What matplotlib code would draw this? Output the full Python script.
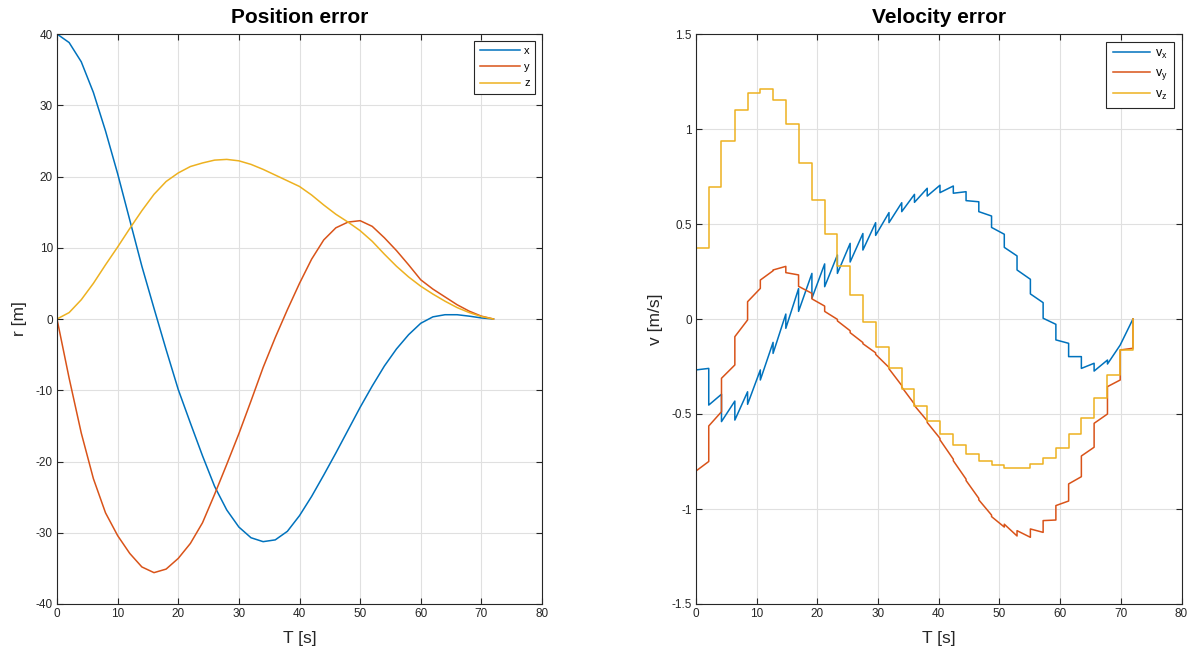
import matplotlib
matplotlib.use("Agg")
import matplotlib.pyplot as plt

plt.rcParams['font.family'] = ['Liberation Sans', 'DejaVu Sans']
plt.rcParams['axes.unicode_minus'] = False

BLUE, RED, YEL = "#0072BD", "#D95319", "#EDB120"
INK = "#262626"

# position error components [m], every 2 s
t_pos = [0, 2, 4, 6, 8, 10, 12, 14, 16, 18, 20, 22, 24, 26, 28, 30, 32, 34, 36,
         38, 40, 42, 44, 46, 48, 50, 52, 54, 56, 58, 60, 62, 64, 66, 68, 70, 72]
rx = [40.0, 38.8, 36.1, 31.8, 26.4, 20.4, 13.9, 7.4, 1.5, -4.3, -9.9, -14.6, -19.2,
      -23.5, -26.8, -29.2, -30.7, -31.25, -31.0, -29.8, -27.6, -24.9, -21.9, -18.8,
      -15.6, -12.4, -9.4, -6.6, -4.2, -2.2, -0.6, 0.3, 0.6, 0.6, 0.4, 0.15, 0.0]
ry = [0.0, -8.3, -16.0, -22.4, -27.2, -30.4, -32.9, -34.8, -35.6, -35.1, -33.6,
      -31.5, -28.6, -24.6, -20.4, -16.1, -11.5, -6.8, -2.6, 1.3, 5.0, 8.4, 11.1,
      12.8, 13.6, 13.8, 13.0, 11.4, 9.6, 7.6, 5.5, 4.2, 3.1, 2.0, 1.1, 0.4, 0.0]
rz = [0.0, 0.9, 2.7, 5.0, 7.6, 10.1, 12.7, 15.2, 17.5, 19.3, 20.5, 21.4, 21.9,
      22.3, 22.4, 22.2, 21.7, 21.0, 20.2, 19.4, 18.6, 17.4, 16.0, 14.7, 13.6, 12.4,
      10.9, 9.1, 7.4, 5.9, 4.6, 3.5, 2.5, 1.6, 0.9, 0.35, 0.0]

# velocity error: estimator update instants [s] and value at the start / end of each interval
t_upd = [0.0, 2.1, 4.2, 6.4, 8.5, 10.6, 12.7, 14.8, 16.9, 19.1, 21.2, 23.3, 25.4,
         27.5, 29.6, 31.8, 33.9, 36.0, 38.1, 40.2, 42.4, 44.5, 46.6, 48.7, 50.8,
         52.9, 55.1, 57.2, 59.3, 61.4, 63.5, 65.6, 67.8, 69.9, 72.0]
vx_start = [-0.268, -0.453, -0.54, -0.532, -0.449, -0.321, -0.181, -0.049, 0.04,
            0.109, 0.17, 0.24, 0.30, 0.363, 0.44, 0.507, 0.565, 0.614, 0.647, 0.665,
            0.662, 0.623, 0.565, 0.482, 0.377, 0.258, 0.132, 0.004, -0.11, -0.198,
            -0.26, -0.274, -0.237, -0.137]
vx_end = [-0.26, -0.396, -0.432, -0.383, -0.268, -0.123, 0.026, 0.16, 0.24, 0.29,
          0.337, 0.398, 0.45, 0.507, 0.56, 0.612, 0.656, 0.688, 0.704, 0.70, 0.67,
          0.617, 0.542, 0.446, 0.332, 0.209, 0.086, -0.028, -0.128, -0.198, -0.233,
          -0.216, -0.137, 0.0]
vy_start = [-0.80, -0.563, -0.312, -0.093, 0.091, 0.205, 0.258, 0.244, 0.172, 0.106,
            0.040, -0.010, -0.072, -0.130, -0.186, -0.262, -0.358, -0.456, -0.545,
            -0.636, -0.746, -0.850, -0.952, -1.040, -1.080, -1.114, -1.105, -1.061,
            -0.982, -0.868, -0.721, -0.549, -0.356, -0.163]
vy_end = [-0.75, -0.488, -0.242, -0.005, 0.161, 0.254, 0.277, 0.232, 0.135, 0.068,
          -0.002, -0.062, -0.124, -0.178, -0.255, -0.350, -0.448, -0.536, -0.628,
          -0.738, -0.843, -0.944, -1.032, -1.095, -1.142, -1.149, -1.123, -1.058,
          -0.958, -0.830, -0.675, -0.500, -0.321, -0.154]
vz_level = [0.375, 0.696, 0.937, 1.10, 1.19, 1.21, 1.153, 1.025, 0.82, 0.626, 0.446,
            0.279, 0.126, -0.014, -0.146, -0.26, -0.37, -0.456, -0.537, -0.605,
            -0.663, -0.71, -0.746, -0.77, -0.782, -0.782, -0.765, -0.73, -0.679,
            -0.607, -0.521, -0.418, -0.295, -0.163]
v_init = {"x": 0.0, "y": -1.0, "z": 0.0}
v_final = 0.0


def piecewise(v0, starts, ends):
    """Vertices of a piecewise-linear trace with jumps at the update instants."""
    ts, vs = [t_upd[0]], [v0]
    for k in range(len(starts)):
        ts += [t_upd[k], t_upd[k + 1]]
        vs += [starts[k], ends[k]]
    ts.append(t_upd[-1]); vs.append(v_final)
    return ts, vs


def style(ax):
    ax.grid(True, color="#e0e0e0", linewidth=0.8)
    ax.set_axisbelow(True)
    for s in ax.spines.values():
        s.set_color(INK); s.set_linewidth(0.8)
    ax.tick_params(direction="in", top=True, right=True, length=4, width=0.8,
                   colors=INK, labelsize=8.5, pad=3)
    ax.set_xlim(0, 80); ax.set_xticks(range(0, 81, 10))
    ax.set_xlabel("T [s]", fontsize=12.5, color=INK, labelpad=8)


def legend(ax, spacing, fs, hl):
    lg = ax.legend(loc="upper right", fontsize=fs, handlelength=hl, handletextpad=0.4,
                   labelspacing=spacing, borderpad=0.5, borderaxespad=0.6,
                   fancybox=False, framealpha=1.0, edgecolor=INK)
    lg.get_frame().set_linewidth(0.8)


fig = plt.figure(figsize=(11.95, 6.57), dpi=100)
ax1 = fig.add_axes([57 / 1195, 53 / 657, 485 / 1195, 570 / 657])
ax2 = fig.add_axes([696 / 1195, 53 / 657, 485.5 / 1195, 570 / 657])

lw = 1.1
ax1.plot(t_pos, rx, color=BLUE, lw=lw, label="x")
ax1.plot(t_pos, ry, color=RED, lw=lw, label="y")
ax1.plot(t_pos, rz, color=YEL, lw=lw, label="z")
style(ax1)
ax1.set_ylim(-40, 40); ax1.set_yticks(range(-40, 41, 10))
ax1.set_ylabel("r [m]", fontsize=12.5, color=INK, labelpad=6)
ax1.set_title("Position error", fontsize=15, fontweight="bold", color="black", pad=8)
legend(ax1, 0.55, 8, 3.6)

ax2.plot(*piecewise(v_init["x"], vx_start, vx_end), color=BLUE, lw=lw, label=r"v$_\mathregular{x}$")
ax2.plot(*piecewise(v_init["y"], vy_start, vy_end), color=RED, lw=lw, label=r"v$_\mathregular{y}$")
ax2.plot(*piecewise(v_init["z"], vz_level, vz_level), color=YEL, lw=lw, label=r"v$_\mathregular{z}$")
style(ax2)
ax2.set_ylim(-1.5, 1.5)
ax2.set_yticks([-1.5, -1, -0.5, 0, 0.5, 1, 1.5])
ax2.set_yticklabels(["-1.5", "-1", "-0.5", "0", "0.5", "1", "1.5"])
ax2.set_ylabel("v [m/s]", fontsize=12.5, color=INK, labelpad=6)
ax2.set_title("Velocity error", fontsize=15, fontweight="bold", color="black", pad=8)
legend(ax2, 0.5, 9, 3.0)

fig.savefig("out.png", dpi=100)
